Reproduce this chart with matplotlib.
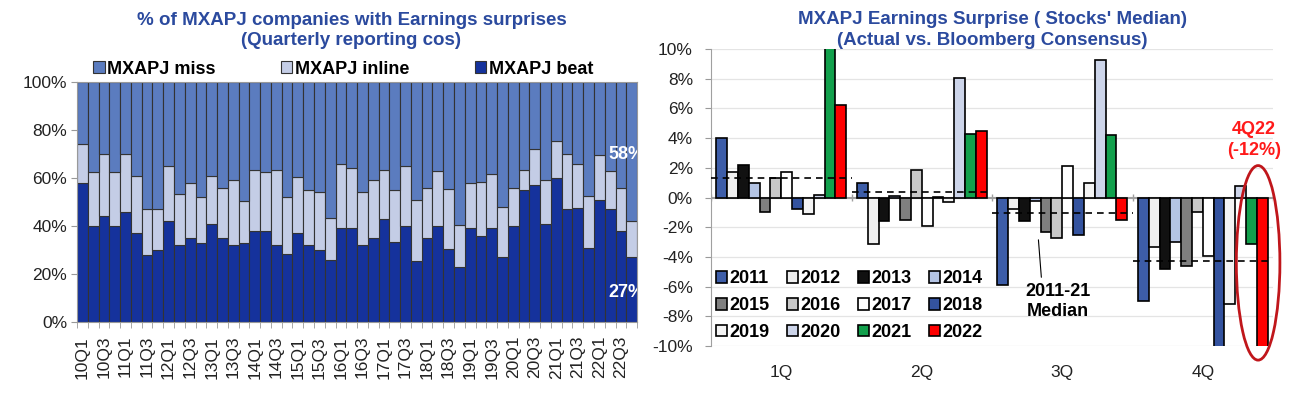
import numpy as np
import matplotlib.pyplot as plt
from matplotlib.patches import Ellipse, Patch

plt.rcParams['font.family'] = ['Liberation Sans', 'DejaVu Sans']
plt.rcParams['axes.unicode_minus'] = False

# ---- left chart data: share of companies (%) per quarter, 10Q1 .. 22Q4
quarters = [f"{y:02d}Q{q}" for y in range(10, 23) for q in range(1, 5)]
beat = [58, 40, 44, 40, 46, 37, 28, 30, 42, 32, 35, 33, 41, 35, 32, 33,
        38, 38, 32, 28.5, 37, 32, 30, 26, 39, 39, 32, 35, 43, 33.5, 40, 25.5,
        35, 40, 30.5, 23, 39, 36, 39, 27, 40, 55, 57, 41, 60, 47, 47.5, 31,
        51, 47, 38, 27]
inline = [16, 22.5, 26, 22.5, 24, 24, 19, 17, 23, 21.5, 23, 19, 20, 21, 27, 17.5,
          25.5, 24.5, 31.5, 23.5, 23.5, 23, 24, 17.5, 27, 25, 22, 24, 20.5, 21.5, 25, 25.5,
          21, 23, 25, 17.5, 19, 22.5, 22.5, 21, 16, 8.5, 15, 18, 15.5, 23, 18.5, 21.5,
          18.5, 16, 18, 15]
miss = [100 - b - i for b, i in zip(beat, inline)]

# ---- right chart data: median earnings surprise (%) by quarter and year
groups = ["1Q", "2Q", "3Q", "4Q"]
years = ["2011", "2012", "2013", "2014", "2015", "2016",
         "2017", "2018", "2019", "2020", "2021", "2022"]
surprise = {
    "2011": [4.0, 0.95, -5.9, -7.0],
    "2012": [1.7, -3.1, -0.8, -3.3],
    "2013": [2.2, -1.6, -1.6, -4.8],
    "2014": [1.0, 0.1, -0.25, -3.0],
    "2015": [-1.0, -1.5, -2.35, -4.6],
    "2016": [1.3, 1.85, -2.7, -0.95],
    "2017": [1.75, -1.95, 2.1, -3.95],
    "2018": [-0.75, 0.05, -2.5, -10.5],
    "2019": [-1.1, -0.3, 0.95, -7.2],
    "2020": [0.2, 8.05, 9.25, 0.8],
    "2021": [10.5, 4.25, 4.2, -3.1],
    "2022": [6.25, 4.5, -1.5, -12.0],
}
medians = [1.32, 0.35, -1.05, -4.3]

year_colors = {
    "2011": "#3D5DA8", "2012": "#EFEFEF", "2013": "#111111", "2014": "#B4C4E4",
    "2015": "#7F7F7F", "2016": "#C8C8C8", "2017": "#FFFFFF", "2018": "#34539F",
    "2019": "#F4F4F4", "2020": "#CDD5EA", "2021": "#12A04C", "2022": "#FF0000",
}

title_blue = "#2B4A9E"
c_miss, c_inline, c_beat = "#5B7CBF", "#C4CDE6", "#15329C"

fig = plt.figure(figsize=(12.93, 3.94), dpi=100)

# ================= left chart =================
ax1 = fig.add_axes([0.0596, 0.1827, 0.4331, 0.609])
x = np.arange(len(quarters))
kw = dict(width=1.0, edgecolor="#333333", linewidth=0.8)
ax1.bar(x, beat, color=c_beat, label="MXAPJ beat", **kw)
ax1.bar(x, inline, bottom=beat, color=c_inline, label="MXAPJ inline", **kw)
ax1.bar(x, miss, bottom=[b + i for b, i in zip(beat, inline)], color=c_miss,
        label="MXAPJ miss", **kw)
ax1.set_xlim(-0.5, len(quarters) - 0.5)
ax1.set_ylim(0, 100)
ax1.set_yticks(range(0, 101, 20))
ax1.set_yticklabels([f"{v}%" for v in range(0, 101, 20)], fontsize=12.5, color="#222222")
ax1.set_xticks(x[::2])
ax1.set_xticklabels(quarters[::2], rotation=90, fontsize=12.5, color="#222222")
ax1.set_xticks(np.arange(len(quarters) + 1) - 0.5, minor=True)
ax1.tick_params(axis="x", which="major", length=0, pad=10)
ax1.tick_params(axis="x", which="minor", length=4, color="#999999")
ax1.tick_params(axis="y", length=4, color="#999999", pad=3)
for s in ax1.spines.values():
    s.set_color("#999999")

h = [Patch(facecolor=c, edgecolor="#333333", linewidth=0.8) for c in (c_miss, c_inline, c_beat)]
ax1.legend(h, ["MXAPJ miss", "MXAPJ inline", "MXAPJ beat"], ncol=3, loc="center",
           bbox_to_anchor=(0.475, 1.054), frameon=False, handlelength=0.65,
           handleheight=0.65, handletextpad=0.15, columnspacing=3.6,
           prop={"size": 13, "weight": "bold"})
ax1.text(0.49, 1.215, "% of MXAPJ companies with Earnings surprises\n(Quarterly reporting cos)",
         transform=ax1.transAxes, ha="center", va="center", fontsize=13.5,
         fontweight="bold", color=title_blue, linespacing=1.3)
ax1.text(48.8, beat[-1] + inline[-1] + 28, f"{round(miss[-1])}%", color="white", fontsize=13,
         fontweight="bold", ha="left", va="center", clip_on=True)
ax1.text(48.8, 12.5, f"{round(beat[-1])}%", color="white", fontsize=13,
         fontweight="bold", ha="left", va="center", clip_on=True)

# ================= right chart =================
ax2 = fig.add_axes([0.5499, 0.1218, 0.4347, 0.7538])
w = 0.077
gx = np.arange(len(groups))
for k, yr in enumerate(years):
    ax2.bar(gx + (k - 5.5) * w, surprise[yr], width=w, color=year_colors[yr],
            edgecolor="black", linewidth=1.2, zorder=3, label=yr)
for g, m in zip(gx, medians):
    ax2.plot([g - 0.5, g + 0.5], [m, m], color="black", lw=1.2,
             linestyle=(0, (4, 3)), zorder=4)
ax2.set_xlim(-0.5, len(groups) - 0.5)
ax2.set_ylim(-10, 10)
ax2.set_yticks(range(-10, 11, 2))
ax2.set_yticklabels([f"{v}%" for v in range(-10, 11, 2)], fontsize=12.5, color="#222222")
ax2.set_xticks(gx)
ax2.set_xticklabels(groups, fontsize=12.5, color="#222222")
ax2.tick_params(axis="x", length=0, pad=14)
ax2.tick_params(axis="y", length=4, color="#999999", pad=9)
ax2.grid(axis="y", color="#E4E4E4", lw=0.9, zorder=0)
ax2.axhline(0, color="#A0A0A0", lw=1.5, zorder=2)
ax2.vlines(np.arange(len(groups) + 1) - 0.5, -0.25, 0.25, color="#A0A0A0", lw=1, zorder=2)
for side in ("top", "right", "bottom"):
    ax2.spines[side].set_visible(False)
ax2.spines["left"].set_color("#A0A0A0")

leg_h = {yr: Patch(facecolor=year_colors[yr], edgecolor="black", linewidth=1.2) for yr in years}
order = [years[r * 4 + c] for c in range(4) for r in range(3)]
ax2.legend([leg_h[y] for y in order], order, ncol=4, loc="lower left",
           bbox_to_anchor=(-0.01, -0.02), frameon=False, handlelength=0.6,
           handleheight=0.6, handletextpad=0.15, columnspacing=0.95,
           labelspacing=0.55, borderaxespad=0.2, prop={"size": 13, "weight": "bold"})

ax2.text(0.5, 1.064, "MXAPJ Earnings Surprise ( Stocks' Median)\n(Actual vs. Bloomberg Consensus)",
         transform=ax2.transAxes, ha="center", va="center", fontsize=13.5,
         fontweight="bold", color=title_blue, linespacing=1.3)

ax2.annotate("2011-21\nMedian", xy=(1.83, -2.85), xytext=(1.97, -7.0),
             ha="center", va="center", fontsize=13, fontweight="bold",
             linespacing=1.25, arrowprops=dict(arrowstyle="-", color="black", lw=0.8,
                                               relpos=(0.25, 1.0), shrinkB=0))

last = len(years) - 1
ax2.add_patch(Ellipse((3 + (last - 5.5) * w - 0.03, -4.4), 0.31, 13.1, fill=False,
                      edgecolor="#C0161B", lw=2, clip_on=False, zorder=6))
ax2.text(3.365, 3.87, f"4Q22\n({round(surprise['2022'][3])}%)", ha="center", va="center",
         color="#FF1A1A", fontsize=13, fontweight="bold", linespacing=1.3)

fig.savefig("out.png", dpi=100)
